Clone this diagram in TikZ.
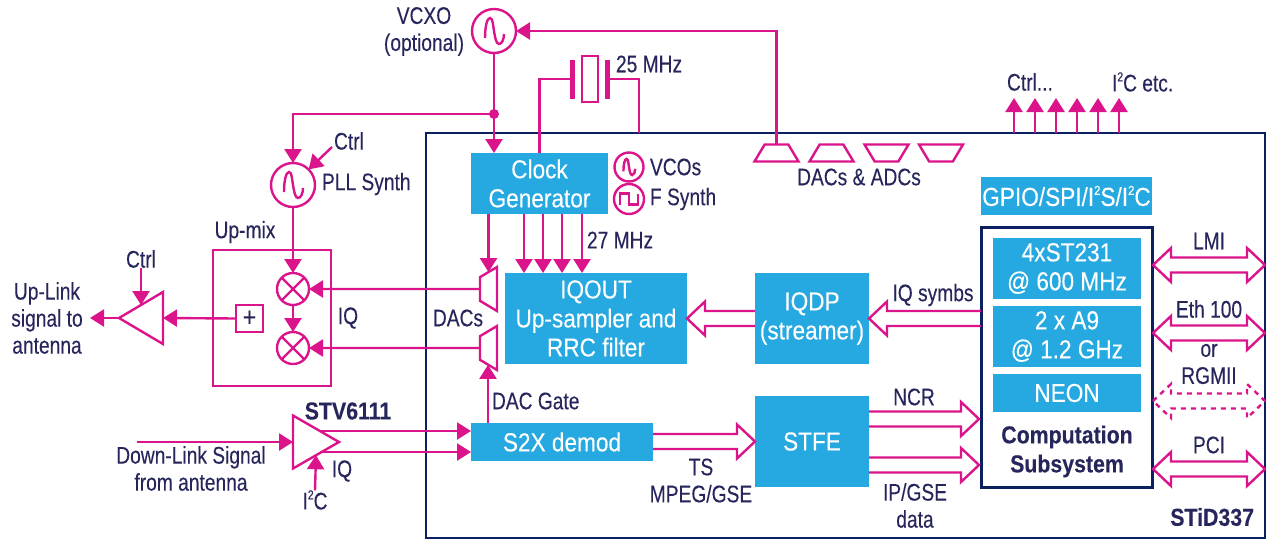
\documentclass[tikz,border=0pt]{standalone}
\usepackage{fontspec}
\setmainfont[FakeStretch=0.8,FakeBold=0.15]{Liberation Sans}
\newfontfamily\blockfont[FakeStretch=0.87,FakeBold=0.15]{Liberation Sans}
\usetikzlibrary{arrows.meta,shapes.geometric,calc}
\definecolor{mag}{HTML}{DC148C}
\definecolor{sky}{HTML}{26A9E0}
\definecolor{navy}{HTML}{0B2060}
\definecolor{ink}{HTML}{26265C}
\newcommand\sqr{\raisebox{.42em}{\fontsize{13}{13}\selectfont 2}}
\tikzset{
  x=1pt,y=-1pt,
  every node/.append style={outer sep=0pt},
  wire/.style={draw=mag,line width=2.4pt},
  arr/.style={wire,-{Triangle[length=14pt,width=17pt]}},
  lbl/.style={text=ink,font=\fontsize{24}{27}\selectfont,align=center,inner sep=0pt},
  lblb/.style={lbl,font=\blockfont\fontsize{24.5}{29}\selectfont\bfseries},
  blk/.style={fill=sky,text=white,font=\blockfont\fontsize{26}{29}\selectfont,align=center,inner sep=0pt,
    minimum width=#1},
  osc/.style={circle,draw=mag,line width=2.4pt,inner sep=0pt,minimum size=#1},
  trap/.style={trapezium,draw=mag,line width=2.4pt,inner sep=0pt,trapezium stretches=true,
    trapezium left angle=72,trapezium right angle=72,minimum width=44pt,minimum height=17pt,font=\tiny},
  amp/.style={isosceles triangle,isosceles triangle stretches,draw=mag,line width=2.4pt,inner sep=0pt},
  pics/sinewave/.style={code={
    \draw[wire] (-9,7) .. controls (-9,-4) and (-7,-13) .. (-4,-13)
      .. controls (-1,-13) and (-1,-5) .. (0,0)
      .. controls (1,6) and (2,13) .. (5,13) .. controls (8,13) and (10,8) .. (10,3);}},
  pics/squarewave/.style={code={
    \draw[wire] (-9,5.5) -- (-9,-5.5) -- (0,-5.5) -- (0,5.5) -- (9,5.5) -- (9,-5.5);}},
}
\newcommand\hollowarrow[3]{% from, to, sign (+1 points right)
  \draw[wire] let \p1=(#1),\p2=(#2),\n1={#3*18pt} in
    (\x1,\y2+7.5pt) -- (\x2-\n1,\y2+7.5pt) -- (\x2-\n1,\y2+17pt) -- (\x2,\y2)
    -- (\x2-\n1,\y2-17pt) -- (\x2-\n1,\y2-7.5pt) -- (\x1,\y2-7.5pt);}
\newcommand\hollowboth[3][]{%
  \draw[wire,#1] let \p1=(#2),\p2=(#3) in
    (\x1,\y1) -- (\x1+18pt,\y1+17pt) -- (\x1+18pt,\y1+7.5pt) -- (\x2-18pt,\y1+7.5pt)
    -- (\x2-18pt,\y1+17pt) -- (\x2,\y1) -- (\x2-18pt,\y1-17pt) -- (\x2-18pt,\y1-7.5pt)
    -- (\x1+18pt,\y1-7.5pt) -- (\x1+18pt,\y1-17pt) -- cycle;}
\begin{document}
\begin{tikzpicture}
\useasboundingbox (0,0) rectangle (1266,539);
\fill[white] (0,0) rectangle (1266,539);
% chip outline
\node[draw=navy,line width=2.8pt,minimum width=839pt,minimum height=405pt,inner sep=0pt] (chip) at (845.5,335.5) {};
% blue blocks
\node[blk=137pt,minimum height=61pt] (clock) at (539.5,183.5) {Clock\\Generator};
\node[blk=182pt,minimum height=91pt] (iqout) at (596,318.5) {IQOUT\\Up-sampler and\\RRC filter};
\node[blk=114pt,minimum height=91pt] (iqdp) at (812,318.5) {IQDP\\(streamer)};
\node[blk=114pt,minimum height=91pt] (stfe) at (812,441.5) {STFE};
\node[blk=182pt,minimum height=38pt] (s2x) at (562,442) {S2X demod};
\node[blk=171pt,minimum height=38pt] (gpio) at (1066.5,196) {GPIO/SPI/I\sqr S/I\sqr C};
\node[draw=navy,line width=3pt,minimum width=171pt,minimum height=260pt,inner sep=0pt] (comp) at (1066.5,357) {};
\node[blk=148pt,minimum height=61pt] (cpua) at (1067,268.5) {4xST231\\@ 600 MHz};
\node[blk=148pt,minimum height=61pt] (cpub) at (1067,336.5) {2 x A9\\@ 1.2 GHz};
\node[blk=148pt,minimum height=38pt] (neon) at (1067,393) {NEON};
\node[lblb] (complbl) at (1067,451.5) {Computation\\Subsystem};
\node[lblb,anchor=east] (stid) at (1254,517) {STiD337};
% oscillators
\node[osc=44pt] (vcxo) at (494,31) {};
\pic at (vcxo.center) {sinewave};
\node[osc=44pt] (pll) at (293,185) {};
\pic at (pll.center) {sinewave};
\node[osc=29pt] (vcos) at (629,167) {};
\pic[scale=.62] at (vcos.center) {sinewave};
\node[osc=30pt] (fsyn) at (629,199) {};
\pic at (fsyn.center) {squarewave};
\node[circle,fill=mag,minimum size=10pt,inner sep=0pt] (jct) at (494,114) {};
% crystal
\node[fill=mag,minimum width=5pt,minimum height=39pt,inner sep=0pt] (plateL) at (572,79) {};
\node[draw=mag,line width=2.4pt,minimum width=16pt,minimum height=46pt,inner sep=0pt] (xtal) at (590,79) {};
\node[fill=mag,minimum width=5pt,minimum height=39pt,inner sep=0pt] (plateR) at (607,79) {};
% up-mix
\node[draw=mag,line width=2.4pt,minimum width=118pt,minimum height=136pt,inner sep=0pt] (upmix) at (272,318) {};
\node[osc=32pt] (mixa) at (293,289) {};
\node[osc=32pt] (mixb) at (293,348) {};
\draw[wire] (mixa.45)--(mixa.225) (mixa.135)--(mixa.315) (mixb.45)--(mixb.225) (mixb.135)--(mixb.315);
\node[draw=mag,line width=2.4pt,minimum size=27pt,inner sep=0pt,text=ink,font=\blockfont\fontsize{27}{27}\selectfont] (plus) at (249.5,318.5) {+};
% amps
\node[amp,shape border rotate=180,minimum height=44pt,minimum width=52pt,anchor=apex] (ampu) at (119,318) {\phantom{x}};
\node[amp,minimum height=46pt,minimum width=53pt,anchor=apex] (ampd) at (339,442) {\phantom{x}};
% DACs
\node[trap,rotate=90] (daca) at (488.5,289) {\phantom{x}};
\node[trap,rotate=90] (dacb) at (488.5,348) {\phantom{x}};
\node[trap] (ta) at (776.5,153) {\phantom{x}};
\node[trap] (tb) at (831.5,153) {\phantom{x}};
\node[trap,rotate=180] (tc) at (886.5,153) {\phantom{x}};
\node[trap,rotate=180] (td) at (941,153) {\phantom{x}};
% labels
\node[lbl] (lvcxo) at (424,31.5) {VCXO\\(optional)};
\node[lbl,anchor=west] (l25) at (616,64) {25 MHz};
\node[lbl] (lctrlb) at (349,141) {Ctrl};
\node[lbl,anchor=west] (lpll) at (322,184) {PLL Synth};
\node[lbl,anchor=west] (lvcos) at (650,167) {VCOs};
\node[lbl,anchor=west] (lfs) at (650,199) {F Synth};
\node[lbl,anchor=west] (l27) at (587,240) {27 MHz};
\node[lbl] (ldacadc) at (859,177) {DACs \& ADCs};
\node[lbl,anchor=west] (lctrlt) at (1007,82) {Ctrl...};
\node[lbl,anchor=west] (li2c) at (1112,82) {I\sqr C etc.};
\node[lbl] (lupmix) at (245,232) {Up-mix};
\node[lbl] (lctrla) at (141,259) {Ctrl};
\node[lbl] (luplink) at (47,318) {Up-Link\\signal to\\antenna};
\node[lbl] (liqm) at (348,318) {IQ};
\node[lbl] (ldacs) at (458,318) {DACs};
\node[lblb] (lstv) at (348,411) {STV6111};
\node[lbl] (ldown) at (191,468.5) {Down-Link Signal\\from antenna};
\node[lbl] (liqd) at (342,471) {IQ};
\node[lbl] (li2cb) at (315,500) {I\sqr C};
\node[lbl,anchor=west] (ldg) at (492,401) {DAC Gate};
\node[lbl] (lts) at (701,480.5) {TS\\MPEG/GSE};
\node[lbl] (lsym) at (933,295) {IQ symbs};
\node[lbl] (lncr) at (914,397) {NCR};
\node[lbl] (lip) at (915,505.5) {IP/GSE\\data};
\node[lbl] (llmi) at (1209,241) {LMI};
\node[lbl] (leth) at (1209,309) {Eth 100};
\node[lbl] (lor) at (1209,364) {or\\RGMII};
\node[lbl] (lpci) at (1209,445) {PCI};
% connectors
\draw[arr] (ta.north) -- (ta.north |- vcxo.east) -- (vcxo.east);
\draw[wire] (vcxo.south) -- (jct.center);
\draw[arr] (jct.center) -- (jct.center |- clock.north);
\draw[arr] (jct.center) -- (jct.center -| pll.north) -- (pll.north);
\coordinate (cb) at (332,147);
\draw[arr] (cb) -- (pll.45);
\draw[wire] (clock.north) -- (clock.north |- plateL) -- (plateL.center);
\coordinate (xr) at (639,79);
\draw[wire] (plateR.center) -- (xr) -- (xr |- chip.north);
\draw[arr] (pll.south) -- (mixa.north);
\draw[arr] (mixa.south) -- (mixb.north);
\draw[arr] (daca.north) -- (mixa.east);
\draw[arr] (dacb.north) -- (mixb.east);
\coordinate (cka) at ([xshift=-51pt]clock.south);
\draw[arr] (cka) -- (cka |- daca.east);
\foreach \d/\n in {-15.5/b,3.5/c,22.5/d,42.5/e} {
  \coordinate (ck\n) at ([xshift=\d pt]clock.south);
  \draw[arr] (ck\n) -- (ck\n |- iqout.north);
}
\draw[arr] (plus.west) -- (ampu.lower side);
\draw[arr] (ampu.apex) -- ++(-29,0) coordinate (upout);
\draw[arr] (lctrla.south) -- (ampu.right side);
\coordinate (dlin) at (137,442);
\draw[arr] (dlin) -- (ampd.lower side);
\coordinate (oa) at (320,431);
\coordinate (ob) at (320,452);
\draw[arr] (oa) -- (oa -| s2x.west);
\draw[arr] (ob) -- (ob -| s2x.west);
\draw[arr] (li2cb.north) -- (ampd.right side);
\coordinate (sg) at ([xshift=-74pt]s2x.north);
\draw[arr] (sg) -- (sg |- dacb.west);
\foreach \x/\n in {1014/a,1035/b,1056/c,1077/d,1098/e,1119/f} {
  \coordinate (up\n) at (\x,133);
  \coordinate (ut\n) at (\x,98);
  \draw[arr] (up\n) -- (ut\n);
}
% hollow arrows
\hollowarrow{s2x.east}{stfe.west}{1}
\hollowarrow{iqdp.west}{iqout.east}{-1}
\hollowarrow{comp.west}{iqdp.east}{-1}
\coordinate (ncrt) at (979,419);
\coordinate (ipt) at (979,465);
\hollowarrow{stfe.east}{ncrt}{1}
\hollowarrow{stfe.east}{ipt}{1}
\coordinate (la) at (1153,265); \coordinate (lb) at (1265,265);
\coordinate (ea) at (1153,333); \coordinate (eb) at (1265,333);
\coordinate (ra) at (1153,401); \coordinate (rb) at (1265,401);
\coordinate (pa) at (1153,469); \coordinate (pb) at (1265,469);
\hollowboth{la}{lb}
\hollowboth{ea}{eb}
\hollowboth[dash pattern=on 5pt off 5pt]{ra}{rb}
\hollowboth{pa}{pb}
\end{tikzpicture}
\end{document}
